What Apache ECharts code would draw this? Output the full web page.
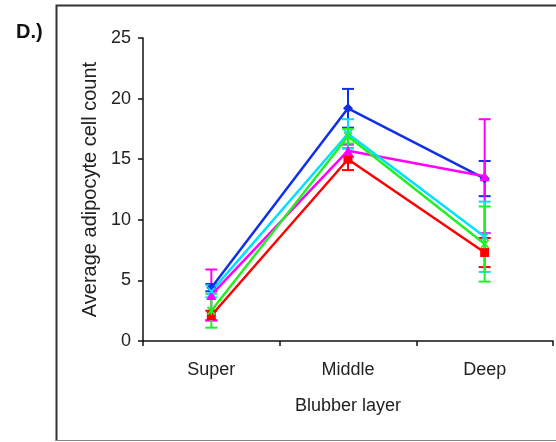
<!DOCTYPE html>
<html>
<head>
<meta charset="utf-8">
<script src="https://cdn.jsdelivr.net/npm/echarts@6/dist/echarts.min.js"></script>
<style>
html,body{margin:0;padding:0;background:#fff;}
#chart{width:556px;height:442px;}
</style>
</head>
<body>
<div id="chart"></div>
<script>
//分类与数据
var layers = ['Super', 'Middle', 'Deep'];
var yTicks = [0, 5, 10, 15, 20, 25];

var blueMean = [4.4, 19.2, 13.4];
var blueErr = [0.3, 1.6, 1.45];
var redMean = [2.1, 15.0, 7.3];
var redErr = [0.4, 0.9, 1.2];
var magentaMean = [3.8, 15.7, 13.6];
var magentaErr = [2.1, 0.5, 4.7];
var cyanMean = [4.1, 17.1, 8.6];
var cyanErr = [0.5, 1.2, 2.9];
var greenMean = [2.5, 16.9, 8.0];
var greenErr = [1.4, 0.6, 3.1];

var crossPath = 'path://M0,1.4 L1.4,0 L5,3.6 L8.6,0 L10,1.4 L6.4,5 L10,8.6 L8.6,10 L5,6.4 L1.4,10 L0,8.6 L3.6,5 Z';
var starPath = crossPath + ' M4.2,0 L5.8,0 L5.8,10 L4.2,10 Z';

var groups = [
	{ name: 'Blue', color: '#1030e8', mean: blueMean, err: blueErr, symbol: 'diamond', size: 10 },
	{ name: 'Red', color: '#ff0000', mean: redMean, err: redErr, symbol: 'rect', size: 9 },
	{ name: 'Magenta', color: '#ff00ff', mean: magentaMean, err: magentaErr, symbol: 'triangle', size: 10 },
	{ name: 'Cyan', color: '#00e0ff', mean: cyanMean, err: cyanErr, symbol: crossPath, size: 9 },
	{ name: 'Green', color: '#22f022', mean: greenMean, err: greenErr, symbol: starPath, size: 9 }
];

function errorBars(color) {
	return function (params, api) {
		var lo = api.coord([api.value(0), api.value(1)]);
		var hi = api.coord([api.value(0), api.value(2)]);
		var half = 6;
		var style = { stroke: color, lineWidth: 2 };
		return {
			type: 'group',
			children: [
				{ type: 'line', shape: { x1: hi[0], y1: hi[1], x2: lo[0], y2: lo[1] }, style: style },
				{ type: 'line', shape: { x1: hi[0] - half, y1: hi[1], x2: hi[0] + half, y2: hi[1] }, style: style },
				{ type: 'line', shape: { x1: lo[0] - half, y1: lo[1], x2: lo[0] + half, y2: lo[1] }, style: style }
			]
		};
	};
}

var series = [];
groups.forEach(function (g) {
	series.push({
		name: g.name,
		type: 'line',
		data: g.mean,
		symbol: g.symbol,
		symbolSize: g.size,
		showAllSymbol: true,
		lineStyle: { color: g.color, width: 2.5 },
		itemStyle: { color: g.color },
		animation: false
	});
	series.push({
		name: g.name + ' err',
		type: 'custom',
		renderItem: errorBars(g.color),
		data: g.mean.map(function (m, i) { return [i, m - g.err[i], m + g.err[i]]; }),
		animation: false
	});
});

var myChart = echarts.init(document.getElementById('chart'));
var option = {
	backgroundColor: '#fff',
	textStyle: { fontFamily: 'Liberation Sans' },
	grid: { left: 143, right: 3, top: 38, bottom: 101 },
	graphic: [
		{ type: 'polyline', shape: { points: [[56.5, 441], [56.5, 5.5], [556, 5.5]] }, style: { stroke: '#333', lineWidth: 2, fill: null } },
		{ type: 'line', shape: { x1: 56, y1: 440.5, x2: 556, y2: 440.5 }, style: { stroke: '#888', lineWidth: 1 } },
		{ type: 'text', left: 16, top: 22, style: { text: 'D.)', font: 'bold 20px Liberation Sans', fill: '#111' } }
	],
	xAxis: {
		type: 'category',
		data: layers,
		boundaryGap: true,
		name: 'Blubber layer',
		nameLocation: 'middle',
		nameGap: 56,
		nameTextStyle: { fontSize: 18, color: '#222' },
		axisLine: { lineStyle: { color: '#111', width: 1.5 } },
		axisTick: { show: true, length: 5, inside: false, lineStyle: { color: '#111', width: 1.5 } },
		axisLabel: { fontSize: 18, color: '#222', margin: 20 },
		splitLine: { show: false }
	},
	yAxis: {
		type: 'value',
		min: yTicks[0],
		max: yTicks[yTicks.length - 1],
		interval: 5,
		name: 'Average adipocyte cell count',
		nameLocation: 'middle',
		nameGap: 41,
		nameTextStyle: { fontSize: 20, color: '#222' },
		axisLine: { show: true, lineStyle: { color: '#111', width: 1.5 } },
		axisTick: { show: true, length: 5, inside: false, lineStyle: { color: '#111', width: 1.5 } },
		axisLabel: { fontSize: 18, color: '#222', margin: 12 },
		splitLine: { show: false }
	},
	series: series
};
myChart.setOption(option, true);
</script>
</body>
</html>
